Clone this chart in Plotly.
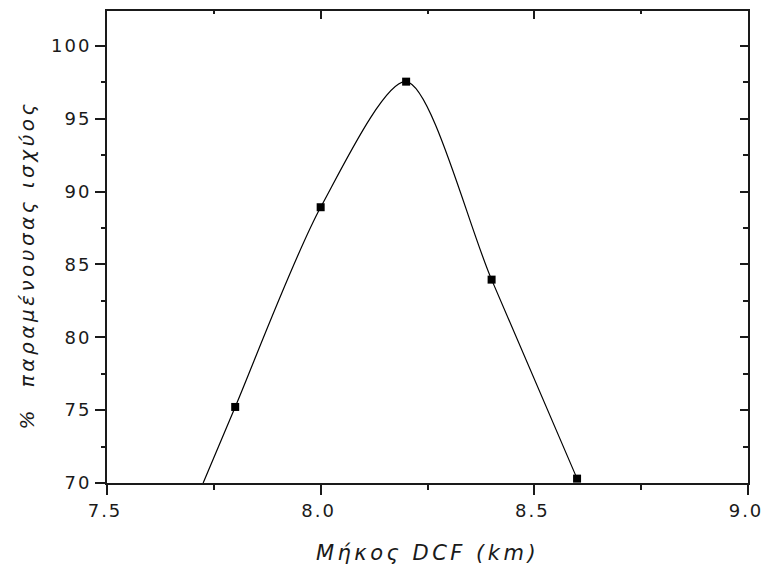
import plotly.graph_objects as go

# Measured points: DCF length (km) vs. remaining power (%)
dcf_km = [7.8, 8.0, 8.2, 8.4, 8.6]
power_pct = [75.22, 88.93, 97.55, 83.96, 70.3]

# Smooth fitted curve, starting where it enters the plotted range
curve_km = [7.725, 7.8, 8.0, 8.2, 8.4, 8.6]
curve_pct = [70.0, 75.22, 88.93, 97.55, 83.96, 70.3]

x_ticks = [7.5, 8.0, 8.5, 9.0]
x_labels = ["7.5", "8.0", "8.5", "9.0"]
y_ticks = [70, 75, 80, 85, 90, 95, 100]
y_labels = ["70", "75", "80", "85", "90", "95", "100"]

X_RANGE = [7.5, 9.0]
Y_RANGE = [70, 102.4]

FONT = "DejaVu Sans, Verdana, sans-serif"
INK = "#1a1a1a"

fig = go.Figure()

fig.add_trace(go.Scatter(
    x=curve_km, y=curve_pct, mode="lines",
    line=dict(color="black", width=1.2, shape="spline", smoothing=0.8),
    xaxis="x2", yaxis="y2", hoverinfo="skip", showlegend=False,
))

fig.add_trace(go.Scatter(
    x=dcf_km, y=power_pct, mode="markers",
    marker=dict(symbol="square", size=8, color="black"),
    cliponaxis=False, showlegend=False,
))

axis_common = dict(showline=True, linecolor=INK, linewidth=2, automargin=False,
                   tickcolor=INK, tickwidth=2, showgrid=False, zeroline=False)

fig.update_layout(
    width=765, height=572,
    margin=dict(l=107, r=17, t=11, b=89),
    paper_bgcolor="white", plot_bgcolor="white",
    font=dict(family=FONT, color=INK, size=17),
    xaxis=dict(
        **axis_common, range=X_RANGE, tickmode="array",
        tickvals=x_ticks, ticktext=x_labels,
        ticks="outside", ticklen=10, ticklabelshift=-2,
        minor=dict(ticks="outside", ticklen=5, dtick=0.25, tick0=7.5,
                   tickcolor=INK, tickwidth=2),
        title=dict(text="Μήκος DCF (km)", standoff=26,
                   font=dict(family=FONT, size=21, style="italic", color=INK)),
        tickfont=dict(family=FONT, size=18, color=INK),
    ),
    yaxis=dict(
        **axis_common, range=Y_RANGE, tickmode="array",
        tickvals=y_ticks, ticktext=y_labels,
        ticks="outside", ticklen=10,
        minor=dict(ticks="outside", ticklen=4, dtick=2.5, tick0=70,
                   tickcolor=INK, tickwidth=2),
        tickfont=dict(family=FONT, size=18, color=INK),
    ),
    xaxis2=dict(
        **axis_common, range=X_RANGE, overlaying="x", side="top",
        tickmode="array", tickvals=x_ticks, showticklabels=False,
        ticks="inside", ticklen=8,
        minor=dict(ticks="inside", ticklen=3, dtick=0.25, tick0=7.5,
                   tickcolor=INK, tickwidth=2),
    ),
    yaxis2=dict(
        **axis_common, range=Y_RANGE, overlaying="y", side="right",
        tickmode="array", tickvals=y_ticks, showticklabels=False,
        ticks="inside", ticklen=8,
        minor=dict(ticks="inside", ticklen=5, dtick=2.5, tick0=70,
                   tickcolor=INK, tickwidth=2),
    ),
    annotations=[dict(
        text="%  παραμένουσας ισχύος", textangle=-90,
        xref="paper", yref="paper", x=-0.1248, y=0.462,
        xanchor="center", yanchor="middle", showarrow=False,
        font=dict(family=FONT, size=20, style="italic", color=INK),
    )],
)

# Widen the letter spacing of tick labels and axis titles
spacing_js = """
var gd = document.getElementsByClassName('plotly-graph-div')[0];
gd.querySelectorAll('.xtick text, .ytick text').forEach(function (t) {
    t.style.letterSpacing = '2px';
});
gd.querySelectorAll('.g-xtitle text').forEach(function (t) {
    t.style.letterSpacing = '3.5px';
});
gd.querySelectorAll('.annotation-text').forEach(function (t) {
    t.style.letterSpacing = '3.5px';
});
"""

fig.write_html("out.html", post_script=spacing_js)
